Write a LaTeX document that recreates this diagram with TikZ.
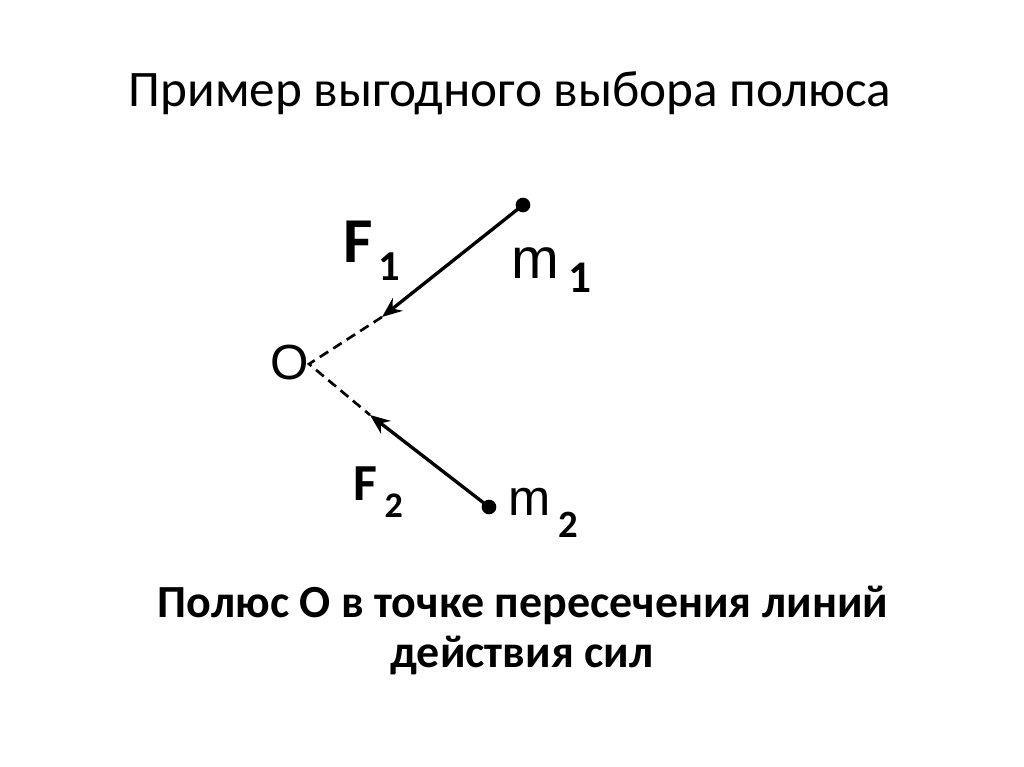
\documentclass[tikz,border=0pt]{standalone}
\usepackage{fontspec}
\setmainfont{Carlito}
\newfontfamily\massfont{Liberation Sans}
\usetikzlibrary{arrows.meta}

\tikzset{every picture/.style={line width=0.75pt}}
\tikzset{
  force/.style={line width=2.5pt, -{Stealth[length=15pt,width=12pt]}},
  actline/.style={line width=2pt, dash pattern={on 7.5pt off 4.5pt}},
  masspt/.style={circle, fill=black, inner sep=0pt, minimum size=11pt},
  lbl/.style={inner sep=0.75pt, anchor=base west},
}

\begin{document}
\begin{tikzpicture}[x=0.75pt,y=0.75pt,yscale=-1,xscale=1]
    \useasboundingbox (0,0) rectangle (1024,767);

    % Title
    \node [inner sep=0.75pt, anchor=base] (title) at (510,107) {\fontsize{38.4}{44}\selectfont Пример выгодного выбора полюса};

    % Points
    \coordinate (O) at (309,364);
    \node [masspt] (m1) at (523,205) {};
    \node [masspt] (m2) at (489,507) {};
    \coordinate (tip1) at (382,317);
    \coordinate (tip2) at (370,415);

    % Forces
    \draw [force] (m1.center) -- (tip1);
    \draw [force] (m2.center) -- (tip2);
    % Lines of action
    \draw [actline] (tip1) -- (O) -- (tip2);

    % Text Node
    \node [lbl] (Olbl) at (269,379) {\massfont\fontsize{37}{37}\selectfont O};
    % Text Node
    \node [lbl] (F1lbl) at (342,262) {\fontsize{48}{48}\selectfont\bfseries F\kern4.5pt\raisebox{-13.5pt}{\fontsize{32}{32}\selectfont 1}};
    % Text Node
    \node [lbl] (m1lbl) at (510,278) {\massfont\fontsize{43}{43}\selectfont m\kern7pt\raisebox{-10.5pt}{\rmfamily\bfseries\fontsize{34}{34}\selectfont 1}};
    % Text Node
    \node [lbl] (F2lbl) at (352,500) {\fontsize{39}{39}\selectfont\bfseries F\kern5.5pt\raisebox{-12.75pt}{\fontsize{27}{27}\selectfont 2}};
    % Text Node
    \node [lbl] (m2lbl) at (507,515) {\massfont\fontsize{38}{38}\selectfont m\kern6pt\raisebox{-17pt}{\rmfamily\bfseries\fontsize{29}{29}\selectfont 2}};

    % Caption
    \node [inner sep=0.75pt, anchor=base] (cap1) at (523,617) {\fontsize{34.5}{40}\selectfont\bfseries Полюс О в точке пересечения линий};
    \node [inner sep=0.75pt, anchor=base] (cap2) at (522,667) {\fontsize{34.5}{40}\selectfont\bfseries действия сил};

\end{tikzpicture}
\end{document}
